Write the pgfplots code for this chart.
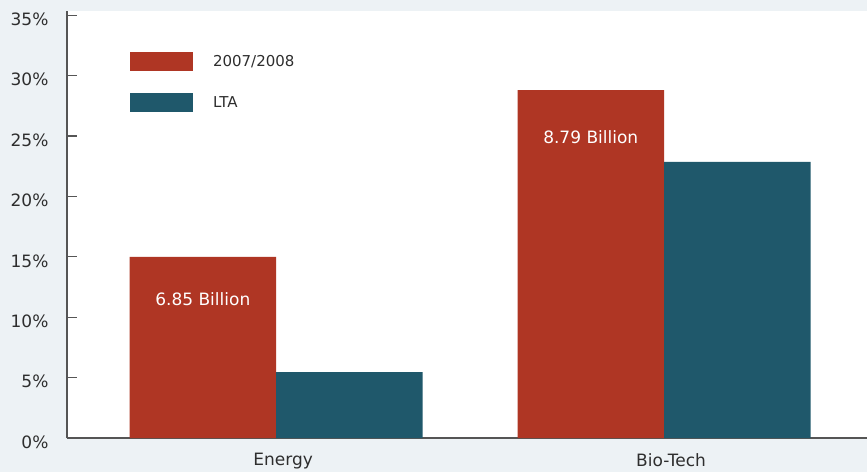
\documentclass[border=0pt]{standalone}
\usepackage{fontspec}
\setmainfont{DejaVu Sans}
\usepackage{pgfplots}
\pgfplotsset{compat=1.18}
\definecolor{bg}{HTML}{EDF2F5}
\definecolor{cred}{HTML}{AF3624}
\definecolor{cteal}{HTML}{1F586B}
\definecolor{txt}{HTML}{2E2E2E}
\definecolor{axc}{HTML}{555555}
\begin{document}
\begin{tikzpicture}
\fill[bg] (0,0) rectangle (867pt,472pt);
\useasboundingbox (0,0) rectangle (867pt,472pt);
\begin{axis}[
  at={(67pt,34pt)}, anchor=south west,
  scale only axis, width=800pt, height=427pt,
  xmin=-0.539, xmax=1.523, ymin=0, ymax=35.35,
  axis background/.style={fill=white},
  axis x line=bottom, axis y line=left,
  axis line style={axc, line width=1.2pt, -},
  ybar=0pt, bar width=146.5pt,
  xtick={0,1}, xticklabels={Energy, Bio-Tech},
  x tick style={draw=none},
  ytick={0,5,...,35},
  /pgf/number format/assume math mode=true,
  yticklabel={\pgfmathprintnumber{\tick}\%},
  tick align=inside, major tick length=10pt,
  y tick style={axc, line width=1.2pt},
  ticklabel style={font=\fontsize{17}{20}\selectfont, text=txt},
  yticklabel style={xshift=-15pt, yshift=-4pt},
  xticklabel style={yshift=-12pt, xshift=7pt},
  legend style={draw=none, fill=none, inner sep=0pt, outer sep=0pt,
    at={(0.0788,0.904)}, anchor=north west,
    font=\fontsize{15}{18}\selectfont, text=txt,
    nodes={inner sep=0pt}, column sep=20pt, row sep=22pt},
  legend cell align=left,
]
\addplot[fill=cred, draw=none, legend image code/.code={\fill[cred] (0pt,-9.5pt) rectangle (63pt,9.5pt);}]
  coordinates {(0,15.0) (1,28.8)};
\addplot[fill=cteal, draw=none, legend image code/.code={\fill[cteal] (0pt,-9.5pt) rectangle (63pt,9.5pt);}]
  coordinates {(0,5.45) (1,22.85)};
\legend{2007/2008, LTA}
\node[text=white, font=\fontsize{17}{20}\selectfont] at (axis cs:-0.189,11.5) {6.85 Billion};
\node[text=white, font=\fontsize{17}{20}\selectfont] at (axis cs:0.811,24.9) {8.79 Billion};
\end{axis}
\end{tikzpicture}
\end{document}
